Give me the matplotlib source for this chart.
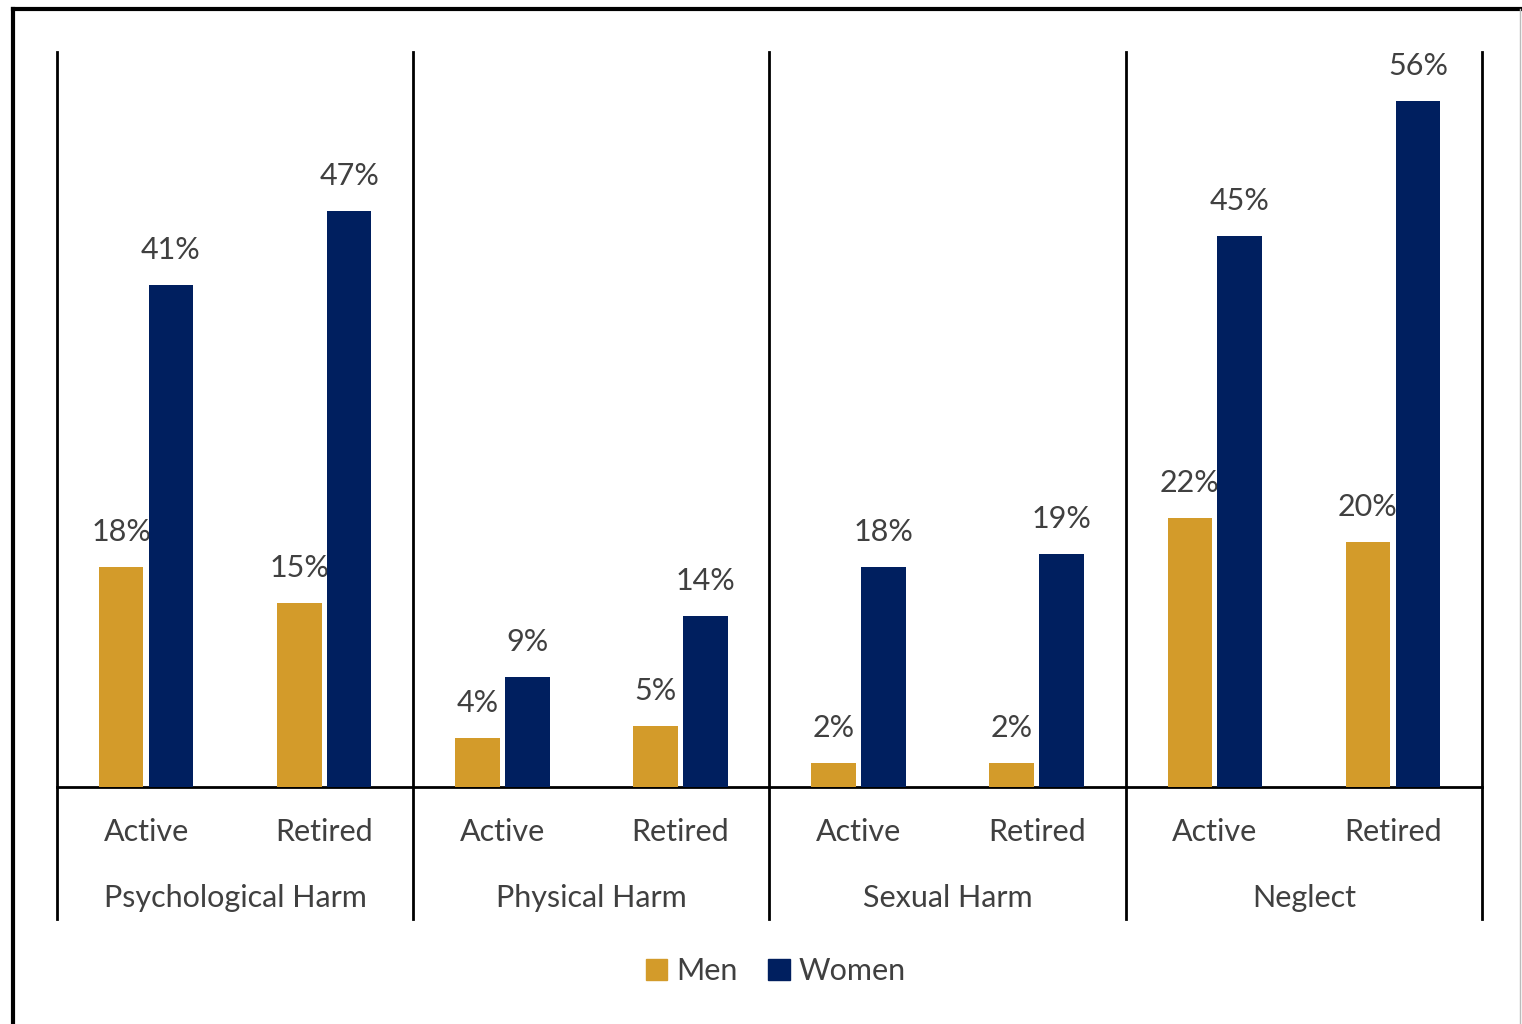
import numpy as np
import matplotlib.pyplot as plt
from matplotlib.lines import Line2D
from matplotlib.patches import Patch

# Data
groups = ['Psychological Harm', 'Physical Harm', 'Sexual Harm', 'Neglect']
status = ['Active', 'Retired']
men = [18, 15, 4, 5, 2, 2, 22, 20]
women = [41, 47, 9, 14, 18, 19, 45, 56]

men_color = '#D39B2A'
women_color = '#001F5F'
text_color = '#404040'
fs = 22

plt.rcParams['font.family'] = ['Lato', 'DejaVu Sans']

fig = plt.figure(figsize=(15.22, 10.24), dpi=100)
ax = fig.add_axes([57 / 1522, 1 - 787 / 1024, 1425 / 1522, 735 / 1024])

x = np.arange(len(men))
w = 0.25
ax.bar(x - 0.14, men, w, color=men_color, zorder=3)
ax.bar(x + 0.14, women, w, color=women_color, zorder=3)

for xi, v in zip(x, men):
    ax.annotate(f'{v}%', (xi - 0.14, v), xytext=(0, 15), textcoords='offset points',
                ha='center', va='bottom', fontsize=fs, color=text_color, zorder=2)
for xi, v in zip(x, women):
    ax.annotate(f'{v}%', (xi + 0.14, v), xytext=(0, 15), textcoords='offset points',
                ha='center', va='bottom', fontsize=fs, color=text_color, zorder=2)

ax.set_xlim(-0.5, len(men) - 0.5)
ax.set_ylim(0, 60)
ax.set_xticks([])
ax.set_yticks([])
for s in ['top', 'left', 'right']:
    ax.spines[s].set_visible(False)
ax.spines['bottom'].set_linewidth(2)
ax.spines['bottom'].set_color('black')

# Group separators running down through the label area
y_low = -10.8
for b in np.arange(-0.5, len(men), 2):
    ax.plot([b, b], [y_low, 60], color='black', lw=2, clip_on=False, zorder=4)

# Category labels
for xi in x:
    ax.text(xi, -3.7, status[xi % 2], ha='center', va='center', fontsize=fs,
            color=text_color, clip_on=False)
for gi, g in enumerate(groups):
    ax.text(gi * 2 + 0.5, -9.1, g, ha='center', va='center', fontsize=fs,
            color=text_color, clip_on=False)

handles = [Patch(color=men_color, label='Men'), Patch(color=women_color, label='Women')]
fig.legend(handles=handles, loc='center', bbox_to_anchor=(776 / 1522, 1 - 971 / 1024),
           ncol=2, frameon=False, fontsize=fs, handlelength=0.7, handleheight=0.7,
           handletextpad=0.3, columnspacing=1.0, labelcolor=text_color)

# Outer frame
fig.add_artist(Line2D([13 / 1522, 13 / 1522], [0, 1 - 9 / 1024], color='black', lw=3))
fig.add_artist(Line2D([13 / 1522, 1], [1 - 9 / 1024, 1 - 9 / 1024], color='black', lw=3))
fig.add_artist(Line2D([1520 / 1522, 1520 / 1522], [0, 1 - 9 / 1024], color='#BBBBBB', lw=1))

fig.savefig('out.png', dpi=100)
